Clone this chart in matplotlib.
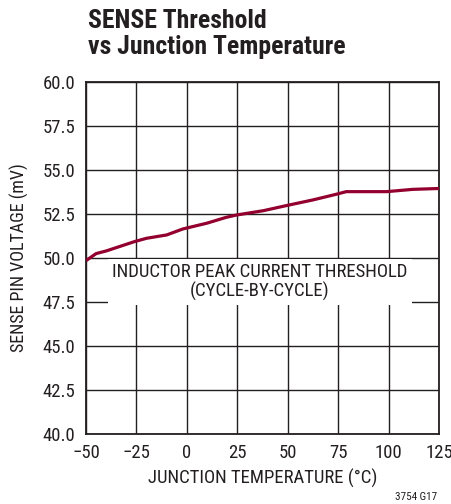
import matplotlib
matplotlib.use("Agg")
import matplotlib.pyplot as plt

# sense threshold
temp_c = [-50, -45, -40, -26, -20, -10, -2, 10, 19.5, 24.5, 38, 49, 62.5, 74, 79, 99, 112, 125]
sense_mv = [49.85, 50.25, 50.40, 50.93, 51.12, 51.31, 51.65, 51.98, 52.31, 52.44, 52.69, 52.97, 53.30, 53.62, 53.77, 53.77, 53.90, 53.95]

x_ticks = [-50, -25, 0, 25, 50, 75, 100, 125]
x_labels = ["\u221250", "\u221225", "0", "25", "50", "75", "100", "125"]
y_ticks = [40.0, 42.5, 45.0, 47.5, 50.0, 52.5, 55.0, 57.5, 60.0]

plt.rcParams["font.family"] = ["Roboto Condensed", "DejaVu Sans"]
ink = "#231f20"
fs = 13.5

fig = plt.figure(figsize=(4.52, 5.04), dpi=100)
ax = fig.add_axes([0.1903, 0.1389, 0.7810, 0.6984])

ax.plot(temp_c, sense_mv, color="#93002f", lw=2.3, zorder=3, solid_capstyle="butt")

ax.set_xlim(-50, 125)
ax.set_ylim(40, 60)
ax.set_xticks(x_ticks)
ax.set_xticklabels(x_labels)
ax.set_yticks(y_ticks)
ax.set_yticklabels([f"{v:.1f}" for v in y_ticks])
ax.tick_params(axis="x", length=0, labelsize=fs, colors=ink, pad=7)
ax.tick_params(axis="y", length=0, labelsize=fs, colors=ink, pad=7.5)
ax.grid(True, color=ink, lw=1.0)
ax.set_axisbelow(True)
for s in ax.spines.values():
    s.set_color(ink)
    s.set_linewidth(1.3)

ax.set_xlabel("JUNCTION TEMPERATURE (\u00b0C)", fontsize=fs, color=ink, labelpad=5)
ax.set_ylabel("SENSE PIN VOLTAGE (mV)", fontsize=fs - 0.5, color=ink, labelpad=10)

ax.text(0.493, 0.432, "INDUCTOR PEAK CURRENT THRESHOLD\n(CYCLE-BY-CYCLE)",
        transform=ax.transAxes, ha="center", va="center", fontsize=fs,
        color=ink, linespacing=1.1, zorder=4,
        bbox=dict(facecolor="white", edgecolor="none", pad=3))

fig.text(0.195, 0.982, "SENSE Threshold\nvs Junction Temperature",
         fontsize=18.5, fontweight="bold", color=ink, ha="left", va="top",
         linespacing=1.1)
fig.text(0.967, 0.014, "3754 G17", fontsize=8, color=ink, ha="right", va="center")

fig.savefig("out.png", dpi=100)
